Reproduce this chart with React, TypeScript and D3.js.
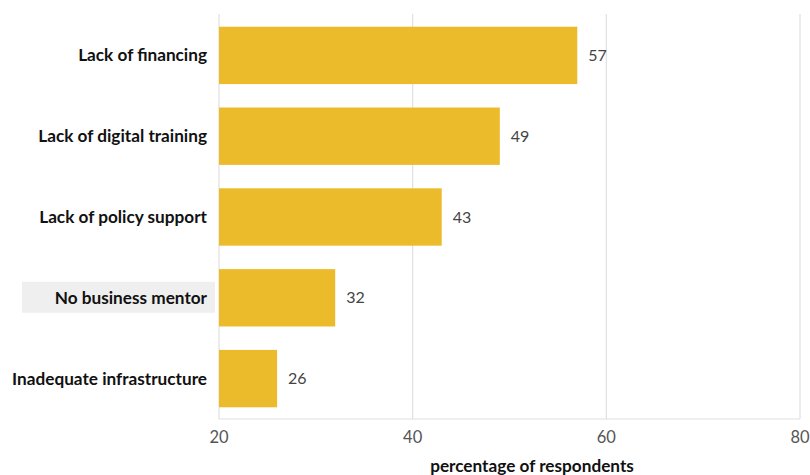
import React from "react";
import * as d3 from "d3";

const categories = [
  "Lack of financing",
  "Lack of digital training",
  "Lack of policy support",
  "No business mentor",
  "Inadequate infrastructure",
];
const values = [57, 49, 43, 32, 26];
const xTicks = [20, 40, 60, 80];
const highlighted = "No business mentor";
const axisTitle = "percentage of respondents";

const W = 810;
const H = 475;
const left = 219;
const right = 800;
const top = 14;
const bottom = 419;

export default function App() {
  const x = d3.scaleLinear().domain([20, 80]).range([left, right]);
  const y = d3
    .scaleBand<string>()
    .domain(categories)
    .range([top + 1, bottom])
    .paddingInner(0.29)
    .paddingOuter(0.145);
  const font = "Lato, 'Open Sans', sans-serif";
  return (
    <svg
      width={W}
      height={H}
      style={{ position: "absolute", left: 0, top: 0, background: "#fff" }}
      fontFamily={font}
    >
      {xTicks.map((t) => (
        <line
          key={"g" + t}
          x1={x(t)}
          x2={x(t)}
          y1={top}
          y2={bottom}
          stroke="#e0e0e0"
          strokeWidth={1.2}
        />
      ))}
      <line x1={left} x2={right} y1={bottom} y2={bottom} stroke="#e0e0e0" strokeWidth={1.2} />
      {categories.map((c, i) => {
        const yy = y(c)!;
        const bw = y.bandwidth();
        return (
          <g key={c}>
            {c === highlighted && (
              <rect x={22} y={yy + bw / 2 - 16} width={193} height={31} fill="#efefef" />
            )}
            <rect x={x(20)} y={yy} width={x(values[i]) - x(20)} height={bw} fill="#ecbb2b" />
            <text
              x={207}
              y={yy + bw / 2}
              dy="0.35em"
              textAnchor="end"
              fontWeight="bold"
              fontSize={17.2}
              fill="#111"
            >
              {c}
            </text>
            <text
              x={x(values[i]) + 11}
              y={yy + bw / 2}
              dy="0.35em"
              fontSize={16}
              fill="#444"
            >
              {values[i]}
            </text>
          </g>
        );
      })}
      {xTicks.map((t) => (
        <text
          key={"t" + t}
          x={x(t)}
          y={437}
          dy="0.35em"
          textAnchor="middle"
          fontSize={16.5}
          fill="#555"
        >
          {t}
        </text>
      ))}
      <text
        x={532}
        y={466}
        dy="0.35em"
        textAnchor="middle"
        fontWeight="bold"
        fontSize={17.2}
        fill="#111"
      >
        {axisTitle}
      </text>
    </svg>
  );
}
